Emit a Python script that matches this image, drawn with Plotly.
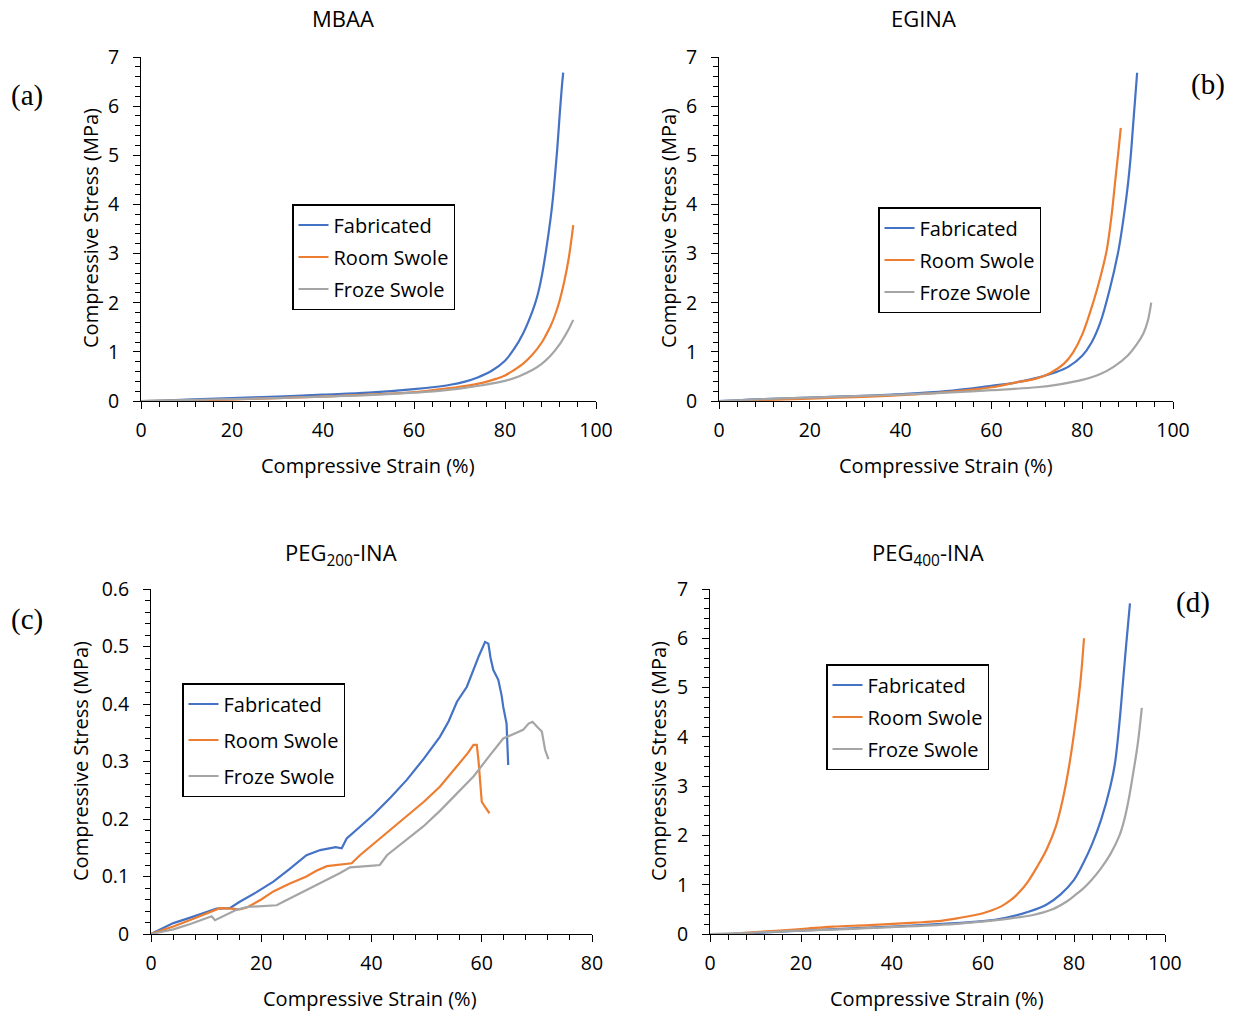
import plotly.graph_objects as go

# ---------------- data ----------------
series_names = ["Fabricated", "Room Swole", "Froze Swole"]
colors = ["#4472C4", "#ED7D31", "#A5A5A5"]

# (a) MBAA
a_fab_x = [0, 5, 10, 20, 30, 40, 50, 60, 65, 68, 71, 74, 77, 80, 82, 84, 86, 87, 88, 89, 90, 90.5, 91, 91.5, 92, 92.5, 92.8]
a_fab_y = [0, 0.01, 0.03, 0.06, 0.09, 0.13, 0.17, 0.24, 0.29, 0.33, 0.39, 0.48, 0.61, 0.82, 1.06, 1.38, 1.82, 2.1, 2.5, 3.05, 3.7, 4.1, 4.6, 5.15, 5.8, 6.4, 6.68]
a_room_x = [0, 10, 20, 30, 40, 50, 60, 65, 70, 75, 78, 80, 82, 84, 86, 88, 89, 90, 91, 92, 93, 94, 94.5, 95]
a_room_y = [0, 0.01, 0.03, 0.06, 0.09, 0.13, 0.18, 0.23, 0.29, 0.37, 0.45, 0.52, 0.63, 0.76, 0.94, 1.18, 1.34, 1.52, 1.75, 2.04, 2.42, 2.9, 3.22, 3.58]
a_froze_x = [0, 10, 20, 30, 40, 50, 60, 65, 70, 75, 80, 83, 86, 88, 90, 92, 93, 94, 95]
a_froze_y = [0, 0.02, 0.04, 0.06, 0.09, 0.12, 0.17, 0.2, 0.25, 0.32, 0.41, 0.5, 0.63, 0.75, 0.92, 1.15, 1.3, 1.46, 1.65]

# (b) EGINA
b_fab_x = [0, 5, 10, 20, 30, 40, 50, 60, 65, 70, 74, 77, 80, 82, 84, 86, 88, 89, 90, 90.7, 91.2, 91.7, 92.1]
b_fab_y = [0, 0.02, 0.04, 0.07, 0.1, 0.14, 0.2, 0.31, 0.37, 0.47, 0.58, 0.7, 0.92, 1.18, 1.6, 2.25, 3.07, 3.65, 4.35, 5.0, 5.6, 6.2, 6.68]
b_room_x = [5, 10, 20, 30, 40, 50, 60, 65, 70, 73, 76, 78, 80, 82.4, 84, 85.4, 86.5, 87.3, 88, 88.5]
b_room_y = [0, 0.02, 0.05, 0.08, 0.12, 0.18, 0.28, 0.37, 0.46, 0.57, 0.76, 0.99, 1.35, 2.0, 2.52, 3.07, 3.8, 4.5, 5.1, 5.56]
b_froze_x = [0, 10, 20, 30, 40, 50, 60, 70, 75, 80, 84, 87, 90, 92, 93.5, 94.5, 95.2]
b_froze_y = [0, 0.04, 0.07, 0.1, 0.13, 0.17, 0.22, 0.28, 0.34, 0.43, 0.55, 0.7, 0.92, 1.15, 1.38, 1.65, 2.0]

# (c) PEG200-INA
c_fab_x = [0, 2, 4.05, 7, 10.1, 11.9, 14.3, 16.1, 19, 22.2, 25, 28.2, 30.7, 32.5, 33.5, 34.6, 35.5, 37.5, 40.3, 43.5, 46.4, 49.5, 52.4, 54, 55.5, 57.3, 58.5, 59.5, 60.6, 61.2, 61.6, 62.1, 63.0, 63.6, 63.9, 64.5, 64.8]
c_fab_y = [0, 0.01, 0.019, 0.028, 0.039, 0.044, 0.045, 0.056, 0.072, 0.091, 0.112, 0.137, 0.146, 0.149, 0.151, 0.149, 0.166, 0.183, 0.207, 0.238, 0.268, 0.305, 0.343, 0.37, 0.404, 0.43, 0.46, 0.484, 0.508, 0.505, 0.48, 0.459, 0.442, 0.415, 0.395, 0.366, 0.294]
c_room_x = [0, 4.05, 7, 10.1, 12.5, 14.5, 16.1, 17.4, 20, 22.2, 25, 28.2, 30, 31.9, 34.3, 36.4, 37.9, 42, 46.4, 49.5, 52.4, 56.0, 57.5, 58.5, 59.1, 59.4, 60.0, 60.6, 61.4]
c_room_y = [0, 0.013, 0.024, 0.036, 0.045, 0.044, 0.043, 0.046, 0.06, 0.074, 0.087, 0.1, 0.11, 0.118, 0.12, 0.123, 0.137, 0.17, 0.204, 0.23, 0.256, 0.297, 0.315, 0.329, 0.329, 0.303, 0.23, 0.221, 0.21]
c_froze_x = [0, 4.05, 7, 10.1, 11.0, 11.6, 13.5, 15.5, 17.4, 22.8, 24.0, 28.2, 31, 34.3, 36.1, 40.3, 41.5, 42.8, 45.5, 49.4, 52.5, 55.5, 58.5, 61.5, 63.9, 66.3, 67.5, 68.5, 69.2, 70.3, 70.9, 71.5, 72.1]
c_froze_y = [0, 0.008, 0.017, 0.027, 0.031, 0.024, 0.033, 0.042, 0.047, 0.05, 0.056, 0.077, 0.09, 0.106, 0.116, 0.119, 0.12, 0.137, 0.157, 0.187, 0.215, 0.245, 0.274, 0.311, 0.34, 0.35, 0.355, 0.366, 0.369, 0.358, 0.352, 0.32, 0.304]

# (d) PEG400-INA
d_fab_x = [0, 5, 10, 20, 30, 40, 50, 60, 65, 70, 74, 77, 80, 82, 84, 86, 88, 89, 90, 90.8, 91.5, 92.3]
d_fab_y = [0, 0, 0.02, 0.07, 0.11, 0.15, 0.2, 0.26, 0.33, 0.45, 0.6, 0.8, 1.1, 1.43, 1.83, 2.33, 3.0, 3.46, 4.3, 5.15, 5.9, 6.71]
d_room_x = [4, 10, 20, 27, 35, 45, 50, 55, 58, 60, 62, 64, 66, 68, 70, 72, 74, 76, 77.5, 79, 80.6, 81.5, 82.2]
d_room_y = [0, 0.04, 0.1, 0.15, 0.18, 0.23, 0.26, 0.33, 0.38, 0.42, 0.48, 0.56, 0.68, 0.85, 1.08, 1.38, 1.72, 2.18, 2.72, 3.45, 4.48, 5.2, 6.0]
d_froze_x = [0, 10, 20, 30, 40, 50, 56, 62, 67, 71, 75, 78.4, 80, 82, 84, 86, 88, 90, 91, 92, 93, 94, 94.9]
d_froze_y = [0, 0.03, 0.07, 0.1, 0.14, 0.18, 0.22, 0.27, 0.33, 0.385, 0.49, 0.66, 0.77, 0.92, 1.11, 1.34, 1.62, 2.0, 2.3, 2.72, 3.26, 3.85, 4.59]

panel_titles = ["MBAA", "EGINA", "PEG<sub>200</sub>-INA", "PEG<sub>400</sub>-INA"]
panel_letters = ["(a)", "(b)", "(c)", "(d)"]
x_title = "Compressive Strain (%)"
y_title = "Compressive Stress (MPa)"

panels = [
    [(a_fab_x, a_fab_y), (a_room_x, a_room_y), (a_froze_x, a_froze_y)],
    [(b_fab_x, b_fab_y), (b_room_x, b_room_y), (b_froze_x, b_froze_y)],
    [(c_fab_x, c_fab_y), (c_room_x, c_room_y), (c_froze_x, c_froze_y)],
    [(d_fab_x, d_fab_y), (d_room_x, d_room_y), (d_froze_x, d_froze_y)],
]

# ---------------- layout geometry (pixels) ----------------
W, H = 1235, 1015
def px(x): return x / W
def py(y): return (H - y) / H

rects = [(141, 596, 57, 401), (719, 1173, 57, 401), (151, 592, 589, 934), (710, 1165, 589, 934)]
x_ranges = [[0, 100], [0, 100], [0, 80], [0, 100]]
y_ranges = [[0, 7], [0, 7], [0, 0.6], [0, 7]]
y_dticks = [1, 1, 0.1, 1]
y_minor = [0.2, 0.2, 0.02, 0.2]
legend_pos = [(292, 204), (878, 207), (182, 683), (826, 664)]
legend_gap = [3, 3, 7, 3]
line_shapes = ["spline", "spline", "linear", "spline"]
title_pos = [(343, 18), (923, 18), (341, 554), (928, 554)]
letter_pos = [(27, 95), (1208, 84), (27, 620), (1193, 603)]
xt_pos = [(368, 465), (946, 465), (370, 998), (937, 998)]
yt_pos = [(90, 228), (668, 228), (80, 761), (658, 761)]

FONT = "Open Sans"
fig = go.Figure()

annotations = []
for i in range(4):
    ax = "" if i == 0 else str(i + 1)
    leg = "legend" if i == 0 else "legend" + str(i + 1)
    for j, (xs, ys) in enumerate(panels[i]):
        line = dict(color=colors[j], width=2.2, shape=line_shapes[i])
        if line_shapes[i] == "spline":
            line["smoothing"] = 1.0
        fig.add_trace(go.Scatter(
            x=xs, y=ys, mode="lines", name=series_names[j], line=line,
            xaxis="x" + ax, yaxis="y" + ax, legend=leg,
            legendgroup=f"p{i}s{j}", cliponaxis=False,
        ))
    l, r, t, b = rects[i]
    fig.layout["xaxis" + ax] = dict(
        domain=[px(l), px(r)], range=x_ranges[i], anchor="y" + ax, automargin=False,
        dtick=20, tick0=0, ticks="outside", ticklen=7, tickcolor="black",
        minor=dict(ticks="outside", dtick=4, ticklen=5, tickcolor="black"),
        showline=True, linecolor="black", linewidth=1,
        showgrid=False, zeroline=False, ticklabelstandoff=5,
        tickfont=dict(family=FONT, size=19.5, color="black"),
    )
    fig.layout["yaxis" + ax] = dict(
        domain=[py(b), py(t)], range=y_ranges[i], anchor="x" + ax, automargin=False,
        dtick=y_dticks[i], tick0=0, ticks="outside", ticklen=7, tickcolor="black",
        minor=dict(ticks="outside", dtick=y_minor[i], ticklen=5, tickcolor="black"),
        showline=True, linecolor="black", linewidth=1,
        showgrid=False, zeroline=False, ticklabelstandoff=10,
        tickfont=dict(family=FONT, size=19.5, color="black"),
    )
    lx, ly = legend_pos[i]
    fig.layout[leg] = dict(
        x=px(lx), y=py(ly), xanchor="left", yanchor="top",
        bordercolor="black", borderwidth=1.5, bgcolor="white",
        font=dict(family=FONT, size=20, color="black"),
        traceorder="grouped", tracegroupgap=legend_gap[i],
    )
    tx, ty = title_pos[i]
    annotations.append(dict(text=panel_titles[i], x=px(tx), y=py(ty), xref="paper", yref="paper",
                            showarrow=False, xanchor="center", yanchor="middle",
                            font=dict(family=FONT, size=22, color="black")))
    lx2, ly2 = letter_pos[i]
    annotations.append(dict(text=panel_letters[i], x=px(lx2), y=py(ly2), xref="paper", yref="paper",
                            showarrow=False, xanchor="center", yanchor="middle",
                            font=dict(family="Liberation Serif", size=29, color="black")))
    xx, xy = xt_pos[i]
    annotations.append(dict(text=x_title, x=px(xx), y=py(xy), xref="paper", yref="paper",
                            showarrow=False, xanchor="center", yanchor="middle",
                            font=dict(family=FONT, size=20, color="black")))
    yx, yy = yt_pos[i]
    annotations.append(dict(text=y_title, x=px(yx), y=py(yy), xref="paper", yref="paper",
                            showarrow=False, xanchor="center", yanchor="middle", textangle=-90,
                            font=dict(family=FONT, size=20, color="black")))

fig.update_layout(
    width=W, height=H, margin=dict(l=0, r=0, t=0, b=0, autoexpand=False),
    paper_bgcolor="white", plot_bgcolor="white",
    annotations=annotations, showlegend=True,
)

fig.write_html(
    "out.html",
    config={"displayModeBar": False},
    post_script="document.body.style.margin='0';document.body.style.overflow='hidden';"
                "document.documentElement.style.overflow='hidden';",
)
